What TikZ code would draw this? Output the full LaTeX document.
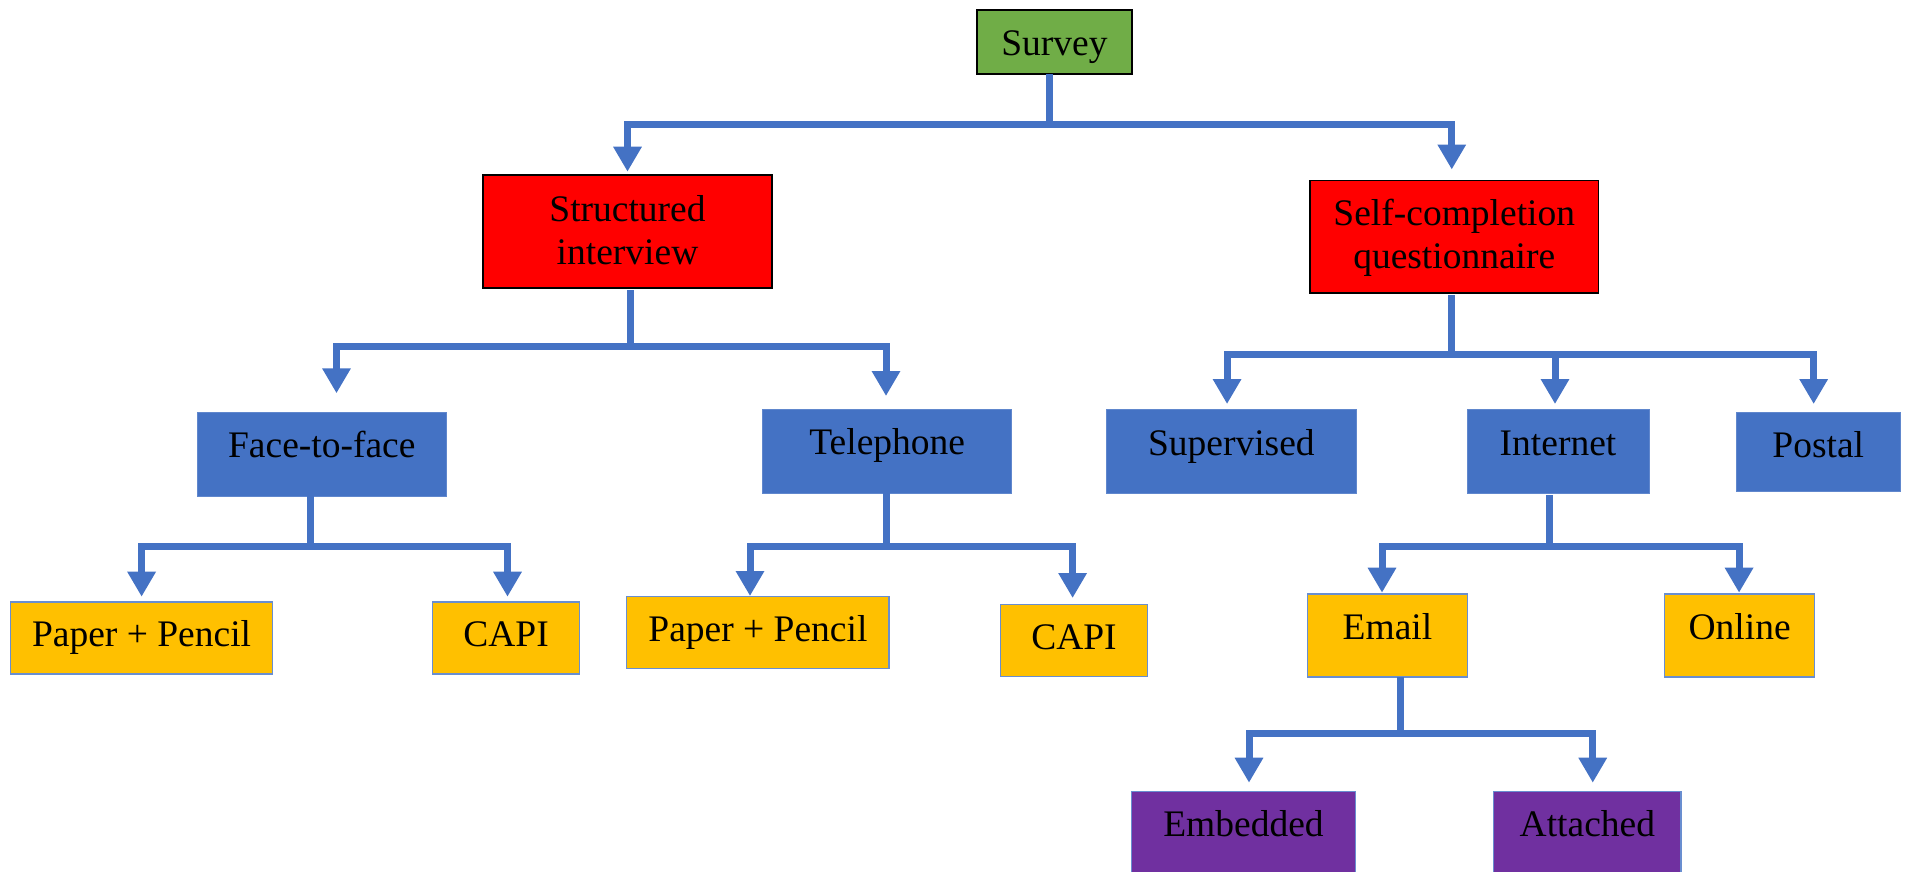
\documentclass[tikz,border=0pt]{standalone}
\usepackage{fontspec}
\setmainfont{Liberation Serif}
\usetikzlibrary{arrows.meta}

\definecolor{linkblue}{HTML}{4472C4}
\definecolor{rootgreen}{HTML}{70AD47}
\definecolor{methodred}{HTML}{FF0000}
\definecolor{modegold}{HTML}{FFC000}
\definecolor{formpurple}{HTML}{7030A0}

\tikzset{
  box/.style={rectangle, inner sep=0pt, outer sep=0pt},
  rootbox/.style={box, fill=rootgreen, draw=black, line width=1.5pt},
  redbox/.style={box, fill=methodred, draw=black, line width=1.5pt},
  bluebox/.style={box, fill=linkblue, draw=linkblue!85!white, line width=1pt},
  goldbox/.style={box, fill=modegold, draw=linkblue!80!white, line width=1.2pt},
  purplebox/.style={box, fill=formpurple, draw=linkblue!80!white, line width=1.2pt},
  lbl/.style={anchor=base, inner sep=0pt, font=\fontsize{37.5pt}{43pt}\selectfont, align=center, text=black},
  conn/.style={draw=linkblue, line width=7pt},
  arr/.style={conn, -{Triangle[width=27pt,length=25pt]}},
}

\begin{document}
\begin{tikzpicture}[x=1pt, y=-1pt]
\useasboundingbox (0,0) rectangle (1905,872);

% ---- boxes ----
\node[rootbox, minimum width=155pt, minimum height=64pt] (survey) at (1054.5,42) {};
\node[redbox, minimum width=289pt, minimum height=113pt] (struct) at (627.5,231.5) {};
\node[redbox, minimum width=288.5pt, minimum height=112.5pt] (self) at (1454.25,236.75) {};

\node[bluebox, minimum width=249pt, minimum height=83.7pt] (ftf) at (321.8,454.15) {};
\node[bluebox, minimum width=249pt, minimum height=84pt] (tel) at (887.2,451) {};
\node[bluebox, minimum width=249.3pt, minimum height=84pt] (sup) at (1231.35,451) {};
\node[bluebox, minimum width=182pt, minimum height=84pt] (int) at (1558,451) {};
\node[bluebox, minimum width=163.5pt, minimum height=79pt] (post) at (1818.25,451.5) {};

\node[goldbox, minimum width=261.8pt, minimum height=72pt] (pp1) at (141.6,638) {};
\node[goldbox, minimum width=147.4pt, minimum height=72pt] (capi1) at (506.1,638) {};
\node[goldbox, minimum width=262.2pt, minimum height=71.6pt] (pp2) at (757.9,632.5) {};
\node[goldbox, minimum width=146.6pt, minimum height=72.4pt] (capi2) at (1074,640.5) {};
\node[goldbox, minimum width=160.2pt, minimum height=83pt] (email) at (1387.5,635.5) {};
\node[goldbox, minimum width=150pt, minimum height=83pt] (online) at (1739.65,635.5) {};

\node[purplebox, minimum width=224.3pt, minimum height=90pt] (emb) at (1243.5,836.7) {};
\node[purplebox, minimum width=187.3pt, minimum height=90pt] (att) at (1587.35,836.7) {};

% ---- labels (two-line labels are placed by the baseline of their last line) ----
\node[lbl] (survey-t) at (1054.5,56) {Survey};
\node[lbl] (struct-t) at (627.5,264) {Structured\\interview};
\node[lbl] (self-t) at (1454.25,268.3) {Self-completion\\questionnaire};
\node[lbl] (ftf-t) at (321.8,457.7) {Face-to-face};
\node[lbl] (tel-t) at (887.2,454.3) {Telephone};
\node[lbl] (sup-t) at (1231.35,455) {Supervised};
\node[lbl] (int-t) at (1558,455) {Internet};
\node[lbl] (post-t) at (1818.25,457.7) {Postal};
\node[lbl] (pp1-t) at (141.6,646.7) {Paper + Pencil};
\node[lbl] (capi1-t) at (506.1,646.7) {CAPI};
\node[lbl] (pp2-t) at (757.9,641.7) {Paper + Pencil};
\node[lbl] (capi2-t) at (1074,649.3) {CAPI};
\node[lbl] (email-t) at (1387.5,639.3) {Email};
\node[lbl] (online-t) at (1739.65,639.3) {Online};
\node[lbl] (emb-t) at (1243.5,836) {Embedded};
\node[lbl] (att-t) at (1587.35,836) {Attached};

% ---- junction points of the connectors ----
\coordinate (j1) at (1049,124.5);
\coordinate (j2) at (630,346);
\coordinate (j3) at (1451.6,354);
\coordinate (j4) at (310,546);
\coordinate (j5) at (886,546);
\coordinate (j6) at (1549.7,546);
\coordinate (j7) at (1400.8,733);

% ---- connectors ----
\draw[conn] (survey.south -| j1) -- (j1);
\draw[arr] (j1) -| ([yshift=3.3pt]struct.north);
\draw[arr] (j1) -| ([xshift=-2.5pt,yshift=11pt]self.north);

\draw[conn] ([yshift=-2pt]struct.south -| j2) -- (j2);
\draw[arr] (j2) -| ([xshift=14.7pt,yshift=19pt]ftf.north);
\draw[arr] (j2) -| ([xshift=-1.2pt,yshift=13pt]tel.north);

\draw[conn] ([yshift=-2pt]self.south -| j3) -- (j3);
\draw[arr] (j3) -| ([xshift=-4.3pt,yshift=5pt]sup.north);
\draw[arr] (j3) -| ([xshift=-3pt,yshift=5pt]int.north);
\draw[arr] (j3) -| ([xshift=-4.6pt,yshift=8pt]post.north);

\draw[conn] (ftf.south -| j4) -- (j4);
\draw[arr] (j4) -| ([yshift=5.3pt]pp1.north);
\draw[arr] (j4) -| ([xshift=1.4pt,yshift=5.3pt]capi1.north);

\draw[conn] (tel.south -| j5) -- (j5);
\draw[arr] (j5) -| ([xshift=-7.9pt,yshift=0.7pt]pp2.north);
\draw[arr] (j5) -| ([xshift=-1.4pt,yshift=6.3pt]capi2.north);

\draw[conn] ([yshift=-2pt]int.south -| j6) -- (j6);
\draw[arr] (j6) -| ([xshift=-5.5pt,yshift=1.3pt]email.north);
\draw[arr] (j6) -| ([xshift=-0.6pt,yshift=1.3pt]online.north);

\draw[conn] (email.south -| j7) -- (j7);
\draw[arr] (j7) -| ([xshift=5.5pt,yshift=9pt]emb.north);
\draw[arr] (j7) -| ([xshift=5.4pt,yshift=9pt]att.north);
\end{tikzpicture}
\end{document}
